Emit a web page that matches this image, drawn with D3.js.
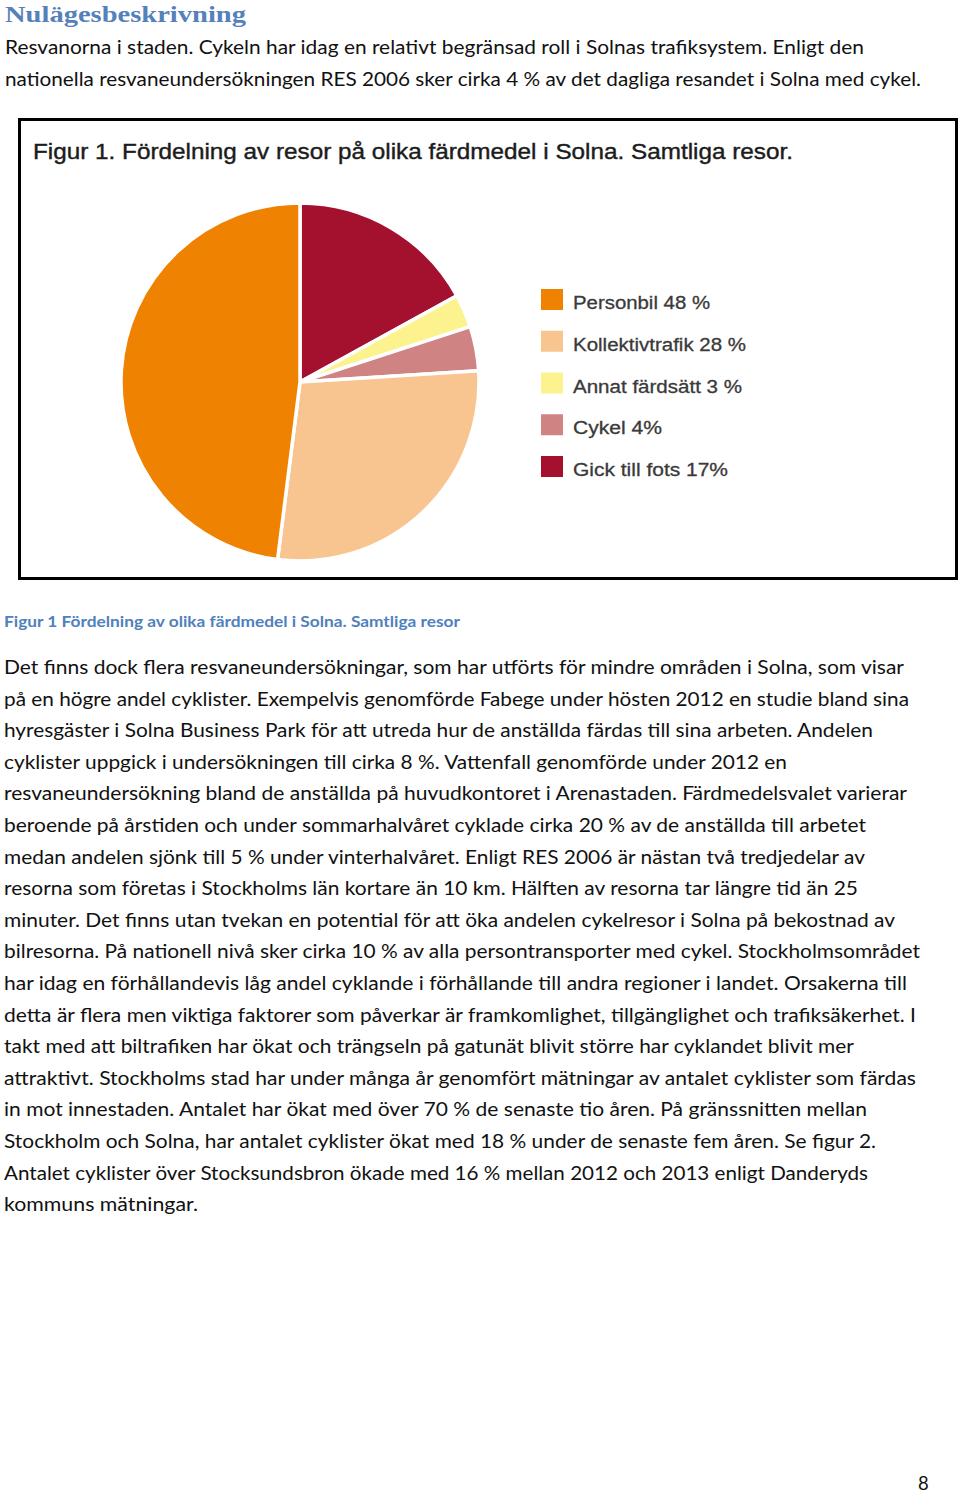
<!DOCTYPE html>
<html>
<head>
<meta charset="utf-8">
<script src="https://cdn.jsdelivr.net/npm/d3@7"></script>
<style>
  html, body { margin: 0; padding: 0; background: #fff; }
  svg { display: block; }
</style>
</head>
<body>
<svg id="page" width="960" height="1493"></svg>
<script>
// ---------- DATA ----------
const categories = ["Personbil", "Kollektivtrafik", "Annat färdsätt", "Cykel", "Gick till fots"];
const values = [48, 28, 3, 4, 17];
const legendLabels = ["Personbil 48 %", "Kollektivtrafik 28 %", "Annat färdsätt 3 %", "Cykel 4%", "Gick till fots 17%"];
const sliceColors = ["#EF8200", "#F8C590", "#FDF38E", "#D08383", "#A3112F"];
const pieOrder = [4, 2, 3, 1, 0]; // clockwise from 12 o'clock as drawn

const heading = "Nulägesbeskrivning";
const introLines = [
  "Resvanorna i staden. Cykeln har idag en relativt begränsad roll i Solnas trafiksystem. Enligt den",
  "nationella resvaneundersökningen RES 2006 sker cirka 4 % av det dagliga resandet i Solna med cykel."
];
const introEnds = [864, 921];
const chartTitle = "Figur 1. Fördelning av resor på olika färdmedel i Solna. Samtliga resor.";
const caption = "Figur 1 Fördelning av olika färdmedel i Solna. Samtliga resor";
const bodyLines = [
  "Det finns dock flera resvaneundersökningar, som har utförts för mindre områden i Solna, som visar",
  "på en högre andel cyklister. Exempelvis genomförde Fabege under hösten 2012 en studie bland sina",
  "hyresgäster i Solna Business Park för att utreda hur de anställda färdas till sina arbeten. Andelen",
  "cyklister uppgick i undersökningen till cirka 8 %. Vattenfall genomförde under 2012 en",
  "resvaneundersökning bland de anställda på huvudkontoret i Arenastaden. Färdmedelsvalet varierar",
  "beroende på årstiden och under sommarhalvåret cyklade cirka 20 % av de anställda till arbetet",
  "medan andelen sjönk till 5 % under vinterhalvåret. Enligt RES 2006 är nästan två tredjedelar av",
  "resorna som företas i Stockholms län kortare än 10 km. Hälften av resorna tar längre tid än 25",
  "minuter. Det finns utan tvekan en potential för att öka andelen cykelresor i Solna på bekostnad av",
  "bilresorna. På nationell nivå sker cirka 10 % av alla persontransporter med cykel. Stockholmsområdet",
  "har idag en förhållandevis låg andel cyklande i förhållande till andra regioner i landet. Orsakerna till",
  "detta är flera men viktiga faktorer som påverkar är framkomlighet, tillgänglighet och trafiksäkerhet. I",
  "takt med att biltrafiken har ökat och trängseln på gatunät blivit större har cyklandet blivit mer",
  "attraktivt. Stockholms stad har under många år genomfört mätningar av antalet cyklister som färdas",
  "in mot innestaden. Antalet har ökat med över 70 % de senaste tio åren. På gränssnitten mellan",
  "Stockholm och Solna, har antalet cyklister ökat med 18 % under de senaste fem åren. Se figur 2.",
  "Antalet cyklister över Stocksundsbron ökade med 16 % mellan 2012 och 2013 enligt Danderyds",
  "kommuns mätningar."
];
const bodyEnds = [904, 909, 873, 787, 907, 866, 865, 858, 895, 920, 907, 916, 854, 916, 867, 876, 868, 198];
const pageNumber = "8";

// ---------- DRAW ----------
const svg = d3.select("#page");
const blue = "#4F81BD";
const bodyFont = "Lato, 'Open Sans', sans-serif";

svg.append("text")
  .attr("x", 5).attr("y", 22)
  .attr("font-family", "'Liberation Serif', serif")
  .attr("font-weight", "bold")
  .attr("font-size", 24)
  .attr("fill", "#5581BB")
  .attr("textLength", 241).attr("lengthAdjust", "spacingAndGlyphs")
  .text(heading);

svg.selectAll("text.intro").data(introLines).join("text")
  .attr("class", "intro")
  .attr("x", 5)
  .attr("y", (d, i) => 54 + i * 32)
  .attr("font-family", bodyFont)
  .attr("font-size", 18.5)
  .attr("fill", "#111")
  .attr("textLength", (d, i) => introEnds[i] - 5)
  .attr("lengthAdjust", "spacingAndGlyphs")
  .text(d => d);

// chart frame
const frame = { x: 19.5, y: 119.5, w: 937, h: 459 };
svg.append("rect")
  .attr("x", frame.x).attr("y", frame.y)
  .attr("width", frame.w).attr("height", frame.h)
  .attr("fill", "#fff").attr("stroke", "#000").attr("stroke-width", 3);

svg.append("text")
  .attr("x", 33).attr("y", 159)
  .attr("font-family", "'Liberation Sans', Arial, sans-serif")
  .attr("font-size", 22)
  .attr("fill", "#1c1c1c")
  .attr("stroke", "#1c1c1c").attr("stroke-width", 0.4)
  .attr("textLength", 760).attr("lengthAdjust", "spacingAndGlyphs")
  .text(chartTitle);

// pie
const cx = 300, cy = 382, r = 179;
const pieData = pieOrder.map(i => ({ i, value: values[i] }));
const pie = d3.pie().sort(null).value(d => d.value).startAngle(0).endAngle(2 * Math.PI);
const arc = d3.arc().innerRadius(0).outerRadius(r);
svg.append("g").attr("transform", `translate(${cx},${cy})`)
  .selectAll("path").data(pie(pieData)).join("path")
  .attr("d", arc)
  .attr("fill", d => sliceColors[d.data.i])
  .attr("stroke", "#fff").attr("stroke-width", 3.5).attr("stroke-linejoin", "round");

// legend
const legendY = d3.scalePoint().domain(categories).range([289, 456]);
const lg = svg.append("g");
const items = lg.selectAll("g").data(categories).join("g")
  .attr("transform", d => `translate(541,${legendY(d)})`);
items.append("rect").attr("width", 22).attr("height", 21)
  .attr("fill", (d, i) => sliceColors[i]);
const legendWidths = [137, 173, 169, 89, 155];
items.append("text")
  .attr("x", 32).attr("y", 20)
  .attr("font-family", "'Liberation Sans', Arial, sans-serif")
  .attr("font-size", 18)
  .attr("fill", "#3a3a3a")
  .attr("stroke", "#3a3a3a").attr("stroke-width", 0.3)
  .attr("textLength", (d, i) => legendWidths[i]).attr("lengthAdjust", "spacingAndGlyphs")
  .text((d, i) => legendLabels[i]);

// caption
svg.append("text")
  .attr("x", 4).attr("y", 627)
  .attr("font-family", bodyFont)
  .attr("font-weight", "bold")
  .attr("font-size", 16)
  .attr("fill", blue)
  .attr("textLength", 456).attr("lengthAdjust", "spacingAndGlyphs")
  .text(caption);

// body paragraph
svg.selectAll("text.body").data(bodyLines).join("text")
  .attr("class", "body")
  .attr("x", 4)
  .attr("y", (d, i) => 674 + i * 31.6)
  .attr("font-family", bodyFont)
  .attr("font-size", 18.5)
  .attr("fill", "#111")
  .attr("textLength", (d, i) => bodyEnds[i] - 4)
  .attr("lengthAdjust", "spacingAndGlyphs")
  .text(d => d);

svg.append("text")
  .attr("x", 918).attr("y", 1490)
  .attr("font-family", bodyFont)
  .attr("font-size", 18.5)
  .attr("fill", "#111")
  .text(pageNumber);
</script>
</body>
</html>
